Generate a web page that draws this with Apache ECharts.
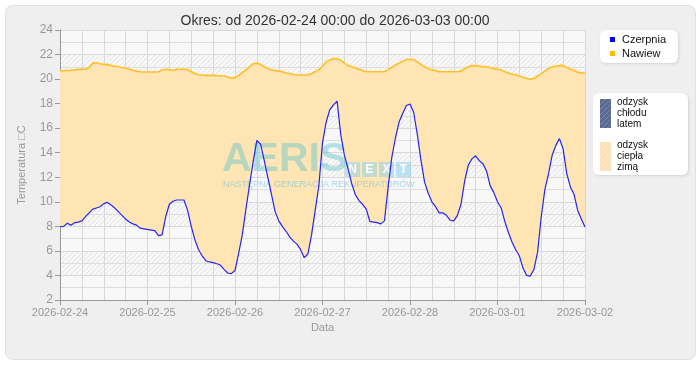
<!DOCTYPE html>
<html><head><meta charset="utf-8">
<script src="https://cdn.jsdelivr.net/npm/echarts@6/dist/echarts.min.js"></script>
<style>html,body{margin:0;padding:0;background:#fff}#c{width:700px;height:380px}</style>
</head><body><div id="c"></div><script>
// Tick labels (one per day, every 24 h)
const dayLabels = ['2026-02-24','2026-02-25','2026-02-26','2026-02-27','2026-02-28','2026-03-01','2026-03-02'];
// Hourly readings from 2026-02-24 00:00 (hour 0) to 2026-03-02 00:00 (hour 144)
const czerpnia = [
  7.97, 8.0, 8.25, 8.1, 8.3, 8.35, 8.45, 8.8, 9.1, 9.4, 9.5, 9.6,
  9.85, 9.95, 9.75, 9.5, 9.2, 8.9, 8.6, 8.35, 8.2, 8.1, 7.85, 7.8,
  7.75, 7.7, 7.65, 7.25, 7.3, 8.8, 9.8, 10.05, 10.15, 10.15, 10.15, 9.3,
  8.0, 6.9, 6.1, 5.6, 5.2, 5.1, 5.05, 4.95, 4.85, 4.5, 4.2, 4.15,
  4.4, 5.8, 7.3, 9.4, 11.4, 13.3, 15.0, 14.7, 13.4, 12.0, 10.6, 9.2,
  8.45, 8.0, 7.6, 7.15, 6.8, 6.55, 6.1, 5.45, 5.75, 7.3, 9.3, 11.3,
  14.8, 16.5, 17.5, 17.9, 18.2, 15.5, 13.8, 12.7, 11.5, 10.6, 10.1, 9.8,
  9.4, 8.4, 8.35, 8.3, 8.2, 8.45, 11.2, 13.6, 15.2, 16.5, 17.2, 17.85,
  17.97, 17.3, 15.5, 13.4, 11.6, 10.7, 10.0, 9.6, 9.1, 9.1, 8.9, 8.5,
  8.45, 8.9, 9.8, 11.7, 13.0, 13.5, 13.75, 13.35, 13.1, 12.5, 11.3, 10.75,
  10.0, 9.5, 8.4, 7.5, 6.7, 6.1, 5.6, 4.6, 4.0, 3.95, 4.5, 5.9,
  8.8, 11.0, 12.3, 13.8, 14.6, 15.15, 14.3, 12.3, 11.2, 10.6, 9.3, 8.6,
  7.95
];
const nawiew = [
  20.68, 20.68, 20.7, 20.7, 20.75, 20.8, 20.8, 20.8, 20.95, 21.3, 21.33, 21.25,
  21.2, 21.18, 21.1, 21.05, 21.0, 20.95, 20.88, 20.8, 20.72, 20.65, 20.6, 20.58,
  20.58, 20.58, 20.58, 20.6, 20.72, 20.8, 20.75, 20.7, 20.8, 20.8, 20.8, 20.78,
  20.6, 20.45, 20.35, 20.33, 20.3, 20.3, 20.3, 20.28, 20.25, 20.25, 20.15, 20.1,
  20.1, 20.3, 20.55, 20.75, 21.0, 21.25, 21.3, 21.2, 21.0, 20.85, 20.75, 20.7,
  20.65, 20.6, 20.5, 20.45, 20.38, 20.33, 20.33, 20.33, 20.35, 20.45, 20.6, 20.75,
  21.05, 21.4, 21.55, 21.68, 21.65, 21.55, 21.3, 21.1, 21.0, 20.9, 20.8, 20.7,
  20.6, 20.6, 20.6, 20.6, 20.6, 20.6, 20.75, 20.95, 21.15, 21.3, 21.45, 21.6,
  21.6, 21.6, 21.4, 21.2, 21.0, 20.85, 20.75, 20.7, 20.6, 20.6, 20.6, 20.6,
  20.6, 20.6, 20.65, 20.85, 21.0, 21.1, 21.1, 21.05, 21.0, 21.0, 20.95, 20.85,
  20.8, 20.75, 20.6, 20.5, 20.4, 20.35, 20.25, 20.15, 20.05, 20.0, 20.05, 20.25,
  20.45, 20.65, 20.85, 21.0, 21.05, 21.1, 21.12, 20.95, 20.8, 20.7, 20.55, 20.5,
  20.5
];
const seriesNames = ['Czerpnia', 'Nawiew'];
const legend2Labels = ['odzysk\nchłodu\nlatem', 'odzysk\nciepła\nzimą'];
const titleText = 'Okres: od 2026-02-24 00:00 do 2026-03-03 00:00';
const wmMain = 'AERIS';
const wmBoxes = ['N', 'E', 'X', 'T'];
const wmSub = 'NASTĘPNA GENERACJA REKUPERATORÓW';

function hatch(bg, line, size) {
  const c = document.createElement('canvas');
  c.width = size; c.height = size;
  const g = c.getContext('2d');
  g.fillStyle = bg; g.fillRect(0, 0, size, size);
  g.strokeStyle = line; g.lineWidth = 1;
  g.beginPath();
  g.moveTo(0, size); g.lineTo(size, 0);
  g.moveTo(-1, 1); g.lineTo(1, -1);
  g.moveTo(size - 1, size + 1); g.lineTo(size + 1, size - 1);
  g.stroke();
  return { image: c, repeat: 'repeat' };
}
const bandHatch = hatch('#f8f8f8', '#e2e2e2', 5);
const coolSwatch = hatch('#5a6a90', '#7a88a8', 5);
const warmSwatch = hatch('#fde6bf', '#f5dcb0', 5);

// hourly category slots (hour index since start)
const hourSlots = czerpnia.map((_, i) => String(i));
const bandDiff = nawiew.map((v, i) => +(v - czerpnia[i]).toFixed(3));

const font = '"Liberation Sans", Arial, sans-serif';

const graphics = [
  { type: 'rect', z: -100, silent: true,
    shape: { x: 5.5, y: 5.5, width: 690, height: 354, r: 7 },
    style: { fill: '#efefef', stroke: '#e0e0e0', lineWidth: 1 } },
  { type: 'text', z: 2, silent: true, x: 222, y: 139,
    style: { text: wmMain, font: 'bold 41px ' + font, fill: 'rgba(95,195,200,0.45)' } },
  { type: 'text', z: 2, silent: true, x: 223, y: 180,
    style: { text: wmSub, font: '9px ' + font, fill: 'rgba(100,190,215,0.55)' } }
];
wmBoxes.forEach((ch, i) => {
  graphics.push({ type: 'rect', z: 2, silent: true,
    shape: { x: 345 + i * 17, y: 162, width: 15, height: 15 },
    style: { fill: 'rgba(120,205,240,0.45)' } });
  graphics.push({ type: 'text', z: 2, silent: true, x: 352.5 + i * 17, y: 170,
    style: { text: ch, font: 'bold 12px ' + font, fill: 'rgba(255,255,255,0.95)', align: 'center', verticalAlign: 'middle' } });
});
graphics.push(
  { type: 'rect', z: 60, shape: { x: 593, y: 93, width: 95, height: 82, r: 6 },
    style: { fill: '#fff', shadowBlur: 3, shadowColor: 'rgba(0,0,0,0.12)', shadowOffsetX: 1, shadowOffsetY: 1 } },
  { type: 'rect', z: 61, shape: { x: 600, y: 99, width: 11, height: 29 }, style: { fill: coolSwatch } },
  { type: 'text', z: 61, x: 617, y: 97, style: { text: legend2Labels[0], font: '10px ' + font, fill: '#111', lineHeight: 11 } },
  { type: 'rect', z: 61, shape: { x: 600, y: 142, width: 11, height: 29 }, style: { fill: warmSwatch } },
  { type: 'text', z: 61, x: 617, y: 140, style: { text: legend2Labels[1], font: '10px ' + font, fill: '#111', lineHeight: 11 } }
);

const chart = echarts.init(document.getElementById('c'), null, { renderer: 'canvas' });
chart.setOption({
  backgroundColor: '#ffffff',
  animation: false,
  textStyle: { fontFamily: font },
  title: {
    text: titleText, left: 330, top: 9, textAlign: 'center',
    textStyle: { fontSize: 14, fontWeight: 'normal', color: '#333', fontFamily: font }
  },
  legend: {
    data: seriesNames.map((n, i) => ({ name: n, itemStyle: { color: i === 0 ? '#0000ff' : '#ffbf00' } })),
    orient: 'vertical', left: 600, top: 30,
    icon: 'rect', itemWidth: 5, itemHeight: 5, itemGap: 3,
    backgroundColor: '#ffffff', borderRadius: 6,
    padding: [4, 12, 4, 10],
    shadowBlur: 3, shadowColor: 'rgba(0,0,0,0.12)', shadowOffsetX: 1, shadowOffsetY: 1,
    textStyle: { fontSize: 11, color: '#111', fontFamily: font, padding: [0, 0, 0, 2] }
  },
  grid: { left: 60, right: 115, top: 30, bottom: 80, containLabel: false },
  xAxis: {
    type: 'category', data: hourSlots, boundaryGap: false,
    name: 'Data', nameLocation: 'middle', nameGap: 21,
    nameTextStyle: { color: '#999', fontSize: 11, fontFamily: font },
    axisLine: { show: true, lineStyle: { color: '#999' } },
    axisTick: { show: true, length: 5, interval: 23, lineStyle: { color: '#999' } },
    axisLabel: { color: '#999', fontSize: 11, margin: 7, fontFamily: font, interval: 23,
      showMaxLabel: true,
      formatter: (v, idx) => dayLabels[Math.round(idx / 24)] || '' },
    splitLine: { show: true, interval: 5, lineStyle: { color: '#d9d9d9' } }
  },
  yAxis: {
    type: 'value', min: 2, max: 24, interval: 2,
    name: 'Temperatura □C', nameLocation: 'middle', nameGap: 33,
    nameTextStyle: { color: '#999', fontSize: 11, fontFamily: font },
    axisLine: { show: true, lineStyle: { color: '#999' } },
    axisTick: { show: true, length: 5, lineStyle: { color: '#999' } },
    axisLabel: { color: '#999', fontSize: 12, margin: 7, fontFamily: font },
    splitLine: { show: true, lineStyle: { color: '#d9d9d9' } },
    minorTick: { show: false, splitNumber: 2 },
    minorSplitLine: { show: true, lineStyle: { color: '#dedede' } },
    splitArea: { show: true, areaStyle: { color: ['#f8f8f8', bandHatch] } }
  },
  series: [
    { name: 'base', type: 'line', stack: 'band', data: czerpnia, symbol: 'none',
      lineStyle: { opacity: 0 }, silent: true, z: 1 },
    { name: 'band', type: 'line', stack: 'band', data: bandDiff, symbol: 'none',
      lineStyle: { opacity: 0 }, areaStyle: { color: '#ffe5b4', opacity: 1 }, silent: true, z: 1 },
    { name: seriesNames[0], type: 'line', data: czerpnia, symbol: 'none',
      lineStyle: { color: '#2525f0', width: 1.2 }, itemStyle: { color: '#0000ff' }, z: 3 },
    { name: seriesNames[1], type: 'line', data: nawiew, symbol: 'none',
      lineStyle: { color: '#ffbe22', width: 1.6 }, itemStyle: { color: '#ffbf00' }, z: 3 }
  ],
  graphic: graphics
});
</script></body></html>
